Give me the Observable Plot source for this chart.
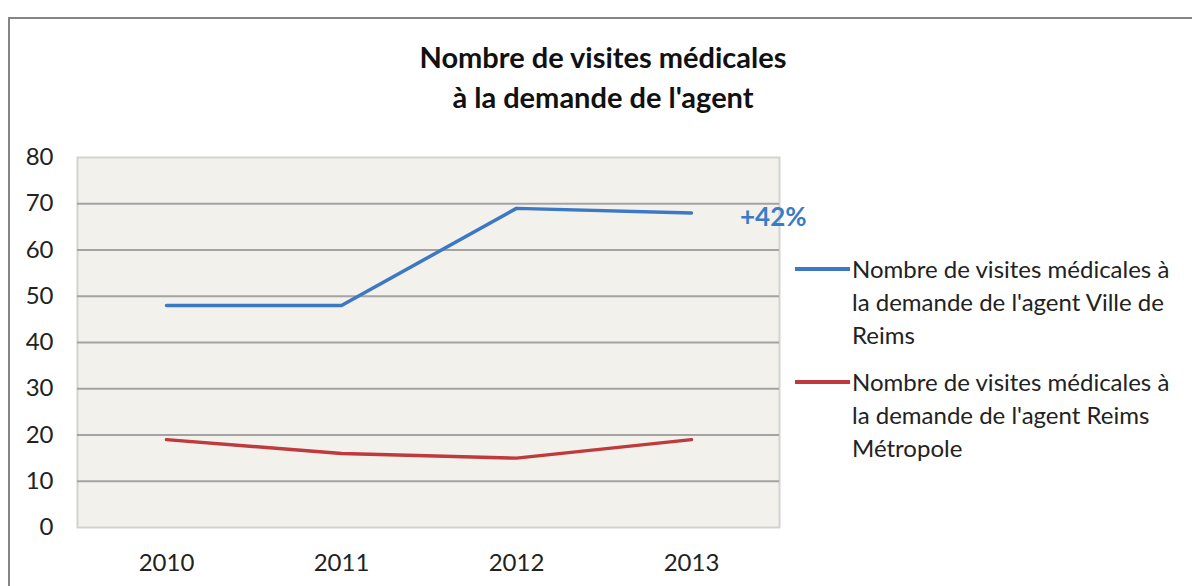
<!DOCTYPE html>
<html>
<head>
<meta charset="utf-8">
<script src="https://cdn.jsdelivr.net/npm/d3@7"></script>
<script src="https://cdn.jsdelivr.net/npm/@observablehq/plot@0.6"></script>
<style>
  html, body { margin: 0; padding: 0; background: #fff; }
  #wrap { position: relative; width: 1192px; height: 586px; overflow: hidden; font-family: Lato, "Open Sans", sans-serif; }
  #border { position: absolute; left: 8px; top: 17px; width: 1300px; height: 700px; border-left: 2px solid #858585; border-top: 2px solid #858585; }
  #chart { position: absolute; left: 0; top: 0; }
  #title { position: absolute; left: 353px; width: 500px; top: 37px; text-align: center; font-weight: bold; font-size: 29px; line-height: 40px; color: #111; }
  .legend { position: absolute; left: 795px; font-size: 24px; line-height: 33px; color: #222; }
  .legend .sw { position: absolute; left: 0; top: 15px; width: 55px; height: 4px; }
  .legend .tx { margin-left: 57px; width: 338px; }
  #note { position: absolute; left: 740px; top: 199px; font-weight: bold; font-size: 26px; color: #3a7bc8; line-height: 34px; }
</style>
</head>
<body>
<div id="wrap">
  <div id="border"></div>
  <div id="chart"></div>
  <div id="title"></div>
  <div id="legend"></div>
  <div id="note"></div>
</div>
<script>
const titleLines = ["Nombre de visites médicales", "à la demande de l'agent"];
const years = ["2010", "2011", "2012", "2013"];
const villeValues = [48, 48, 69, 68];
const metropoleValues = [19, 16, 15, 19];
const seriesNames = [
  "Nombre de visites médicales à la demande de l'agent Ville de Reims",
  "Nombre de visites médicales à la demande de l'agent Reims Métropole"
];
const seriesColors = ["#3d78c4", "#c0393d"];
const yTicks = [0, 10, 20, 30, 40, 50, 60, 70, 80];
const gridTicks = [10, 20, 30, 40, 50, 60, 70];
const noteText = "+42%";

const data = [
  ...years.map((y, i) => ({year: y, value: villeValues[i], series: seriesNames[0]})),
  ...years.map((y, i) => ({year: y, value: metropoleValues[i], series: seriesNames[1]}))
];

const chart = Plot.plot({
  width: 1192,
  height: 586,
  marginLeft: 77,
  marginRight: 413,
  marginTop: 157,
  marginBottom: 59,
  style: {fontFamily: "Lato, 'Open Sans', sans-serif", fontSize: "24px", color: "#222", background: "transparent"},
  x: {type: "point", domain: years, padding: 0.5, label: null, tickSize: 0, tickPadding: 26},
  y: {domain: [0, 80], ticks: yTicks, label: null, tickSize: 0, tickPadding: 24},
  color: {domain: seriesNames, range: seriesColors},
  marks: [
    Plot.frame({fill: "#f2f1ec", stroke: "#d2d2d0", strokeWidth: 2}),
    Plot.ruleY(gridTicks, {stroke: "#a3a3a3", strokeWidth: 2}),
    Plot.line(data, {x: "year", y: "value", z: "series", stroke: "series", strokeWidth: 3.5, curve: "linear"})
  ]
});
document.getElementById("chart").appendChild(chart);

document.getElementById("title").innerHTML = titleLines.join("<br>");
document.getElementById("note").textContent = noteText;

const legendTops = [252, 365];
const leg = document.getElementById("legend");
seriesNames.forEach((name, i) => {
  const d = document.createElement("div");
  d.className = "legend";
  d.style.top = legendTops[i] + "px";
  d.innerHTML = `<div class="sw" style="background:${seriesColors[i]}"></div><div class="tx">${name}</div>`;
  leg.appendChild(d);
});
</script>
</body>
</html>
